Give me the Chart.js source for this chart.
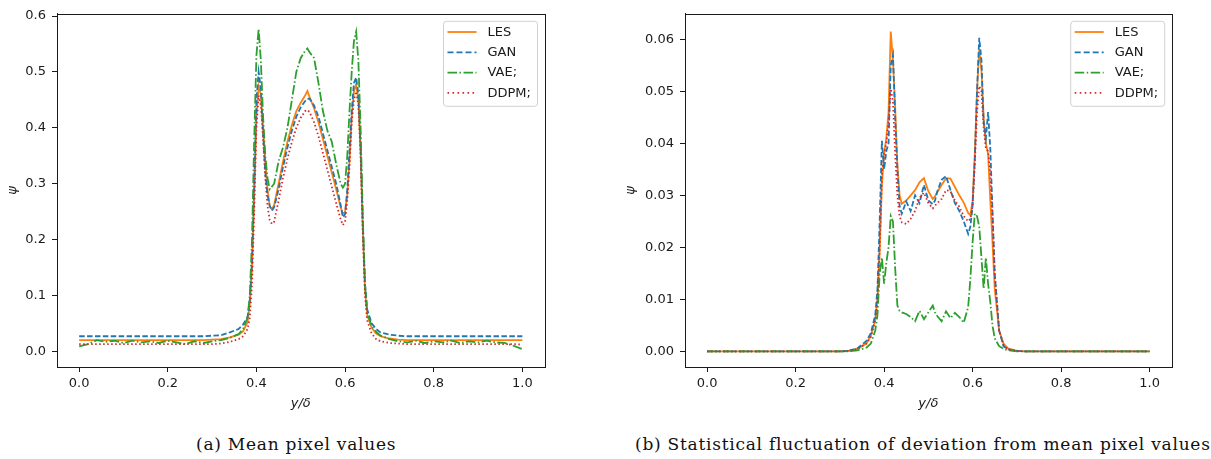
<!DOCTYPE html>
<html>
<head>
<meta charset="utf-8">
<script src="https://cdn.jsdelivr.net/npm/chart.js@4.4.1/dist/chart.umd.min.js"></script>
<style>
  body { margin: 0; background: #fff; width: 1211px; height: 459px; position: relative; overflow: hidden; }
  .panel { position: absolute; top: 0; }
  .caption { position: absolute; top: 434px; font-family: "DejaVu Serif", serif; font-size: 17px; letter-spacing: 0.75px; color: #111; white-space: nowrap; }
</style>
</head>
<body>
<canvas id="mean-chart" class="panel" width="560" height="420" style="left:0"></canvas>
<canvas id="fluct-chart" class="panel" width="611" height="420" style="left:600px"></canvas>
<div class="caption" style="left:196px">(a) Mean pixel values</div>
<div class="caption" style="left:635px">(b) Statistical fluctuation of deviation from mean pixel values</div>

<script>
// y/delta positions (shared by every series)
const yDelta = [
  0, 0.02, 0.04, 0.06, 0.08, 0.1, 0.12, 0.14, 0.16, 0.18, 0.2, 0.22, 0.24, 0.26, 0.28, 0.3, 0.32,
  0.34, 0.36, 0.37, 0.38, 0.385, 0.39, 0.395, 0.4, 0.405, 0.41, 0.415, 0.42, 0.425, 0.43, 0.435, 0.44,
  0.45, 0.46, 0.47, 0.48, 0.49, 0.5, 0.51, 0.515, 0.52, 0.53, 0.54, 0.55, 0.56, 0.57, 0.58, 0.59,
  0.595, 0.6, 0.605, 0.61, 0.615, 0.62, 0.625, 0.63, 0.635, 0.64, 0.645, 0.65, 0.66, 0.67, 0.68, 0.7,
  0.72, 0.74, 0.76, 0.78, 0.8, 0.82, 0.84, 0.86, 0.88, 0.9, 0.92, 0.94, 0.96, 0.98, 1
];

// (a) mean pixel values
const meanLES = [
  0.02, 0.02, 0.02, 0.02, 0.02, 0.02, 0.02, 0.02, 0.02, 0.02, 0.02, 0.02, 0.02, 0.02, 0.02, 0.021, 0.022,
  0.025, 0.03, 0.036, 0.052, 0.085, 0.15, 0.28, 0.42, 0.475, 0.46, 0.40, 0.34, 0.29, 0.26, 0.254, 0.262,
  0.30, 0.34, 0.375, 0.405, 0.43, 0.445, 0.458, 0.466, 0.455, 0.435, 0.41, 0.38, 0.35, 0.32, 0.29, 0.258,
  0.246, 0.25, 0.28, 0.34, 0.42, 0.465, 0.478, 0.45, 0.36, 0.22, 0.11, 0.065, 0.042, 0.032, 0.027, 0.023,
  0.021, 0.02, 0.02, 0.02, 0.02, 0.02, 0.02, 0.02, 0.02, 0.02, 0.02, 0.02, 0.02, 0.02, 0.02
];
const meanGAN = [
  0.027, 0.027, 0.027, 0.027, 0.027, 0.027, 0.027, 0.027, 0.027, 0.027, 0.027, 0.027, 0.027, 0.027, 0.027, 0.028, 0.029,
  0.034, 0.04, 0.048, 0.062, 0.09, 0.16, 0.30, 0.45, 0.50, 0.47, 0.39, 0.32, 0.28, 0.26, 0.252, 0.258,
  0.29, 0.33, 0.365, 0.395, 0.42, 0.437, 0.448, 0.452, 0.452, 0.44, 0.42, 0.39, 0.36, 0.33, 0.30, 0.262,
  0.24, 0.245, 0.29, 0.36, 0.43, 0.48, 0.49, 0.46, 0.37, 0.23, 0.12, 0.075, 0.05, 0.04, 0.034, 0.03,
  0.028, 0.027, 0.027, 0.027, 0.027, 0.027, 0.027, 0.027, 0.027, 0.027, 0.027, 0.027, 0.027, 0.027, 0.027
];
const meanVAE = [
  0.009, 0.013, 0.02, 0.017, 0.019, 0.015, 0.019, 0.016, 0.018, 0.015, 0.019, 0.016, 0.013, 0.018, 0.015, 0.018, 0.02,
  0.024, 0.031, 0.04, 0.06, 0.10, 0.20, 0.38, 0.53, 0.577, 0.52, 0.42, 0.35, 0.31, 0.29, 0.295, 0.30,
  0.34, 0.365, 0.40, 0.45, 0.50, 0.525, 0.538, 0.542, 0.535, 0.525, 0.48, 0.43, 0.395, 0.375, 0.335, 0.30,
  0.293, 0.30, 0.35, 0.43, 0.50, 0.555, 0.572, 0.52, 0.40, 0.24, 0.12, 0.07, 0.045, 0.035, 0.028, 0.022,
  0.018, 0.016, 0.019, 0.015, 0.018, 0.016, 0.019, 0.015, 0.018, 0.016, 0.019, 0.016, 0.015, 0.01, 0.004
];
const meanDDPM = [
  0.013, 0.013, 0.013, 0.013, 0.013, 0.013, 0.013, 0.013, 0.013, 0.013, 0.013, 0.013, 0.013, 0.013, 0.013, 0.013, 0.014,
  0.017, 0.022, 0.027, 0.04, 0.06, 0.12, 0.25, 0.40, 0.458, 0.44, 0.38, 0.31, 0.26, 0.235, 0.228, 0.232,
  0.27, 0.31, 0.345, 0.375, 0.40, 0.418, 0.43, 0.432, 0.428, 0.41, 0.385, 0.355, 0.325, 0.295, 0.265, 0.236,
  0.226, 0.232, 0.27, 0.33, 0.41, 0.45, 0.465, 0.44, 0.35, 0.21, 0.10, 0.055, 0.032, 0.022, 0.018, 0.015,
  0.014, 0.013, 0.013, 0.013, 0.013, 0.013, 0.013, 0.013, 0.013, 0.013, 0.013, 0.013, 0.013, 0.013, 0.012
];

// (b) statistical fluctuation of deviation from mean
const flucLES = [
  0, 0, 0, 0, 0, 0, 0, 0, 0, 0, 0, 0, 0, 0, 0, 0, 0.0001,
  0.0005, 0.0015, 0.003, 0.006, 0.01, 0.019, 0.032, 0.038, 0.041, 0.046, 0.0615, 0.056, 0.047, 0.036, 0.03, 0.0284,
  0.029, 0.03, 0.031, 0.0325, 0.0333, 0.0308, 0.0293, 0.0298, 0.0306, 0.032, 0.0333, 0.0332, 0.0316, 0.03, 0.0286, 0.0266,
  0.0262, 0.029, 0.038, 0.05, 0.058, 0.054, 0.045, 0.04, 0.038, 0.029, 0.021, 0.012, 0.004, 0.0015, 0.0006, 0.0001,
  0, 0, 0, 0, 0, 0, 0, 0, 0, 0, 0, 0, 0, 0, 0
];
const flucGAN = [
  0, 0, 0, 0, 0, 0, 0, 0, 0, 0, 0, 0, 0, 0, 0, 0, 0.0001,
  0.0006, 0.002, 0.0035, 0.007, 0.012, 0.025, 0.0405, 0.035, 0.0385, 0.04, 0.055, 0.057, 0.045, 0.035, 0.028, 0.0265,
  0.0288, 0.027, 0.03, 0.0285, 0.032, 0.029, 0.0283, 0.029, 0.0307, 0.033, 0.0337, 0.031, 0.0285, 0.027, 0.025, 0.0226,
  0.024, 0.028, 0.037, 0.05, 0.0603, 0.056, 0.044, 0.041, 0.046, 0.039, 0.027, 0.015, 0.004, 0.001, 0.0004, 0.0001,
  0, 0, 0, 0, 0, 0, 0, 0, 0, 0, 0, 0, 0, 0, 0
];
const flucVAE = [
  0, 0, 0, 0, 0, 0, 0, 0, 0, 0, 0, 0, 0, 0, 0, 0, 0,
  0.0002, 0.0007, 0.0015, 0.004, 0.007, 0.015, 0.018, 0.013, 0.017, 0.02, 0.026, 0.025, 0.016, 0.0088, 0.0078, 0.0075,
  0.0072, 0.0066, 0.0058, 0.0078, 0.0062, 0.0075, 0.0088, 0.0075, 0.0068, 0.0058, 0.0077, 0.0064, 0.0074, 0.0066, 0.0055, 0.0085,
  0.014, 0.021, 0.0265, 0.026, 0.024, 0.018, 0.012, 0.018, 0.013, 0.0095, 0.005, 0.0025, 0.001, 0.0005, 0.0002, 0,
  0, 0, 0, 0, 0, 0, 0, 0, 0, 0, 0, 0, 0, 0, 0
];
const flucDDPM = [
  0, 0, 0, 0, 0, 0, 0, 0, 0, 0, 0, 0, 0, 0, 0, 0, 0.0001,
  0.0005, 0.0015, 0.0028, 0.006, 0.01, 0.02, 0.034, 0.038, 0.04, 0.044, 0.0505, 0.048, 0.038, 0.03, 0.026, 0.0248,
  0.0245, 0.0255, 0.027, 0.0295, 0.0305, 0.0285, 0.0275, 0.028, 0.0285, 0.0293, 0.031, 0.0308, 0.029, 0.0278, 0.026, 0.025,
  0.0255, 0.028, 0.036, 0.046, 0.051, 0.05, 0.043, 0.039, 0.0385, 0.034, 0.026, 0.015, 0.004, 0.0012, 0.0004, 0.0001,
  0, 0, 0, 0, 0, 0, 0, 0, 0, 0, 0, 0, 0, 0, 0
];

const seriesNames = ['LES', 'GAN', 'VAE;', 'DDPM;'];
const seriesColors = ['#ff7f0e', '#1f77b4', '#2ca02c', '#d62728'];
const seriesDash = [[], [5.5, 2.4], [9.6, 2.4, 1.5, 2.4], [1.5, 2.5]];
const legendDash = [[], [6, 3], [9.5, 2.5, 1.5, 2.5], [1.6, 3.4]];

const ink = '#1a1a1a';
const tickFont = { family: 'DejaVu Sans', size: 13 };

// frame round the plot area + matplotlib-like legend in the upper right corner
const frameAndLegend = {
  id: 'frameAndLegend',
  afterDraw(chart) {
    const { ctx, chartArea: a } = chart;
    ctx.save();
    ctx.strokeStyle = ink;
    ctx.lineWidth = 1;
    ctx.setLineDash([]);
    ctx.strokeRect(Math.round(a.left) + 0.5, Math.round(a.top) + 0.5, Math.round(a.right - a.left), Math.round(a.bottom - a.top));

    const w = 94, h = 85;
    const bx = a.right - 7 - w, by = a.top + 7.5;
    ctx.beginPath();
    ctx.roundRect(bx, by, w, h, 3);
    ctx.fillStyle = 'rgba(255,255,255,0.85)';
    ctx.fill();
    ctx.strokeStyle = '#d0d0d0';
    ctx.stroke();

    ctx.font = '13px "DejaVu Sans"';
    ctx.textBaseline = 'middle';
    chart.data.datasets.forEach((ds, i) => {
      const ly = by + 10.7 + i * 20.3;
      ctx.beginPath();
      ctx.strokeStyle = ds.borderColor;
      ctx.lineWidth = 1.8;
      ctx.setLineDash(legendDash[i]);
      ctx.moveTo(bx + 4, ly);
      ctx.lineTo(bx + 33, ly);
      ctx.stroke();
      ctx.fillStyle = ink;
      ctx.fillText(ds.label, bx + 44, ly + 0.5);
    });
    ctx.restore();
  }
};

const makeDatasets = series => series.map((vals, i) => ({
  label: seriesNames[i],
  data: yDelta.map((x, k) => ({ x: x, y: vals[k] })),
  borderColor: seriesColors[i],
  borderWidth: 1.8,
  borderDash: seriesDash[i],
  pointRadius: 0,
  tension: 0,
  order: 4 - i
}));

const makeOptions = (yMin, yMax, yStep, digits, yWidth, titlePad, rightPad) => ({
  responsive: false,
  animation: false,
  layout: { padding: { top: 4, right: rightPad, left: 0, bottom: 0 } },
  plugins: { legend: { display: false }, tooltip: { enabled: false } },
  scales: {
    x: {
      type: 'linear', min: -0.05, max: 1.05,
      ticks: { stepSize: 0.2, includeBounds: false, autoSkip: false, maxRotation: 0, padding: 4,
               color: ink, font: tickFont, callback: v => v.toFixed(1) },
      grid: { drawOnChartArea: false, color: ink, tickLength: 5 },
      border: { color: ink },
      title: { display: true, text: 'y/δ', color: ink,
               font: { family: 'DejaVu Sans', size: 13, style: 'italic' }, padding: { top: 0, bottom: 9 } },
      afterFit: s => { s.height = 53; }
    },
    y: {
      type: 'linear', min: yMin, max: yMax,
      ticks: { stepSize: yStep, includeBounds: false, padding: 6,
               color: ink, font: tickFont, callback: v => v.toFixed(digits) },
      grid: { drawOnChartArea: false, color: ink, tickLength: 5 },
      border: { color: ink },
      title: { display: true, text: 'ψ', color: ink,
               font: { family: 'DejaVu Sans', size: 13, style: 'italic' }, padding: { top: titlePad, bottom: 0 } },
      afterFit: s => { s.width = yWidth; }
    }
  }
});

new Chart(document.getElementById('mean-chart'), {
  type: 'line',
  data: { datasets: makeDatasets([meanLES, meanGAN, meanVAE, meanDDPM]) },
  options: makeOptions(-0.028, 0.604, 0.1, 1, 57, 5, 15.5),
  plugins: [frameAndLegend]
});

new Chart(document.getElementById('fluct-chart'), {
  type: 'line',
  data: { datasets: makeDatasets([flucLES, flucGAN, flucVAE, flucDDPM]) },
  options: makeOptions(-0.003, 0.0649, 0.01, 2, 85, 22.7, 39.3),
  plugins: [frameAndLegend]
});
</script>
</body>
</html>
